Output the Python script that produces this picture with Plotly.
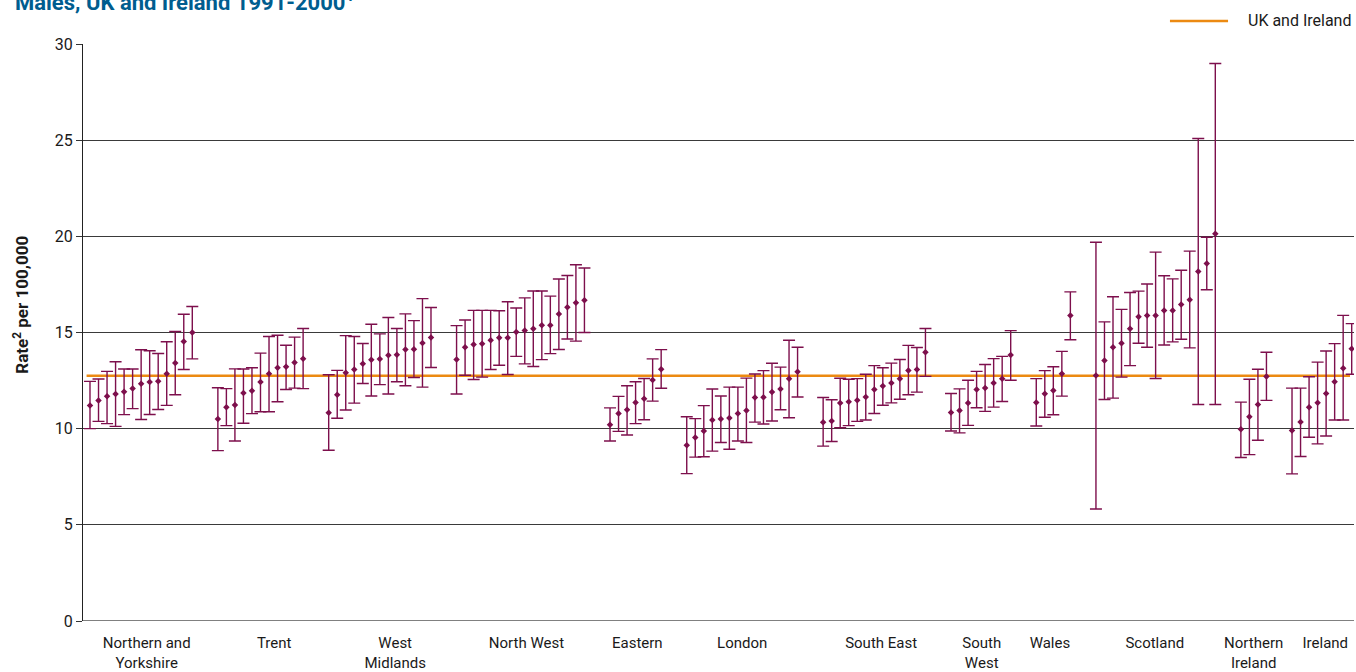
import plotly.graph_objects as go

# Regions (display labels) and the number of registries plotted in each
regions = ["Northern and<br>Yorkshire", "Trent", "West<br>Midlands", "North West",
           "Eastern", "London", "South East", "South<br>West", "Wales",
           "Scotland", "Northern<br>Ireland", "Ireland"]

# Age-standardised rates per 100,000 with lower / upper 95% confidence limits
rate_ny = [11.21, 11.47, 11.68, 11.80, 11.92, 12.09, 12.34, 12.42, 12.47, 12.85, 13.41, 14.53, 15.00]
lo_ny = [10.00, 10.38, 10.26, 10.12, 10.73, 11.04, 10.48, 10.74, 11.00, 11.21, 11.76, 13.08, 13.63]
hi_ny = [12.46, 12.58, 12.98, 13.48, 13.10, 13.10, 14.10, 14.05, 13.91, 14.52, 15.05, 15.95, 16.35]

rate_trent = [10.50, 11.11, 11.23, 11.85, 11.97, 12.42, 12.85, 13.17, 13.22, 13.44, 13.63]
lo_trent = [8.86, 10.16, 9.36, 10.28, 10.78, 10.88, 10.88, 11.40, 12.04, 12.11, 12.08]
hi_trent = [12.13, 12.08, 13.11, 13.10, 13.17, 13.93, 14.79, 14.86, 14.34, 14.76, 15.21]

rate_wm = [10.83, 11.76, 12.91, 13.08, 13.37, 13.58, 13.62, 13.82, 13.84, 14.12, 14.13, 14.45, 14.74]
lo_wm = [8.88, 10.54, 10.97, 11.33, 12.35, 11.70, 12.29, 11.80, 12.44, 12.23, 12.66, 12.16, 13.18]
hi_wm = [12.80, 13.03, 14.84, 14.79, 14.43, 15.43, 14.93, 15.78, 15.21, 15.97, 15.62, 16.76, 16.30]

rate_nw = [13.59, 14.23, 14.38, 14.42, 14.60, 14.73, 14.73, 15.02, 15.10, 15.19, 15.38, 15.38,
           15.96, 16.31, 16.55, 16.68]
lo_nw = [11.80, 12.78, 12.56, 12.68, 13.08, 13.30, 12.82, 13.76, 13.37, 13.23, 13.59, 13.90,
         14.12, 14.66, 14.55, 15.00]
hi_nw = [15.36, 15.65, 16.15, 16.15, 16.15, 16.13, 16.60, 16.27, 16.80, 17.16, 17.16, 16.89,
         17.78, 17.96, 18.52, 18.35]

rate_east = [10.21, 10.79, 10.98, 11.36, 11.55, 12.53, 13.09]
lo_east = [9.36, 9.86, 9.67, 10.26, 10.46, 11.43, 12.10]
hi_east = [11.08, 11.68, 12.23, 12.44, 12.61, 13.63, 14.11]

rate_london = [9.14, 9.54, 9.88, 10.45, 10.50, 10.55, 10.79, 10.95, 11.62, 11.63, 11.91, 12.06, 12.59, 12.96]
lo_london = [7.66, 8.52, 8.54, 8.83, 9.28, 8.93, 9.36, 9.28, 10.34, 10.24, 10.40, 10.98, 10.57, 11.65]
hi_london = [10.62, 10.52, 11.20, 12.06, 11.70, 12.16, 12.16, 12.63, 12.84, 13.02, 13.40, 13.20, 14.60, 14.23]

rate_se = [10.34, 10.40, 11.34, 11.40, 11.48, 11.64, 12.03, 12.22, 12.38, 12.59, 13.03, 13.07, 13.97]
lo_se = [9.09, 9.33, 10.05, 10.16, 10.38, 10.45, 10.79, 11.22, 11.34, 11.53, 11.76, 11.90, 12.72]
hi_se = [11.62, 11.50, 12.62, 12.57, 12.60, 12.83, 13.28, 13.17, 13.41, 13.60, 14.33, 14.22, 15.21]

rate_sw = [10.84, 10.95, 11.34, 12.03, 12.12, 12.38, 12.59, 13.83]
lo_sw = [9.88, 9.78, 10.17, 11.09, 10.90, 11.12, 11.41, 12.52]
hi_sw = [11.83, 12.07, 12.52, 12.98, 13.34, 13.64, 13.76, 15.10]

rate_wales = [11.36, 11.81, 11.98, 12.86, 15.88]
lo_wales = [10.14, 10.59, 10.72, 11.69, 14.62]
hi_wales = [12.60, 13.02, 13.22, 14.02, 17.11]

rate_scot = [12.76, 13.54, 14.23, 14.44, 15.20, 15.82, 15.89, 15.89, 16.15, 16.15, 16.45, 16.70,
             18.17, 18.59, 20.14]
lo_scot = [5.82, 11.52, 11.59, 12.68, 13.28, 14.44, 14.23, 12.61, 14.35, 14.51, 14.65, 14.20,
           11.26, 17.22, 11.26]
hi_scot = [19.69, 15.55, 16.86, 16.20, 17.08, 17.15, 17.52, 19.18, 17.95, 17.79, 18.24, 19.23,
           25.09, 19.95, 28.99]

rate_ni = [9.97, 10.62, 11.26, 12.71]
lo_ni = [8.50, 8.65, 9.40, 11.47]
hi_ni = [11.38, 12.57, 13.09, 13.97]

rate_ire = [9.90, 10.35, 11.12, 11.35, 11.83, 12.44, 13.14, 14.15]
lo_ire = [7.65, 8.55, 9.55, 9.21, 9.62, 10.45, 10.45, 12.83]
hi_ire = [12.11, 12.11, 12.70, 13.46, 14.04, 14.42, 15.89, 15.46]

uk_ireland_rate = 12.75

y_ticks = [0, 5, 10, 15, 20, 25, 30]

# Category label positions along the slot axis
label_pos = [6.65, 21.6, 35.8, 51.2, 64.2, 76.5, 92.8, 104.6, 112.6, 124.9, 136.5, 144.9]

rates = [rate_ny, rate_trent, rate_wm, rate_nw, rate_east, rate_london, rate_se,
         rate_sw, rate_wales, rate_scot, rate_ni, rate_ire]
lows = [lo_ny, lo_trent, lo_wm, lo_nw, lo_east, lo_london, lo_se,
        lo_sw, lo_wales, lo_scot, lo_ni, lo_ire]
highs = [hi_ny, hi_trent, hi_wm, hi_nw, hi_east, hi_london, hi_se,
         hi_sw, hi_wales, hi_scot, hi_ni, hi_ire]

# Each registry gets one slot; regions are separated by two empty slots
GAP = 2
xs, ys, err_up, err_dn = [], [], [], []
start = 0
for r, lo, hi in zip(rates, lows, highs):
    for i, (v, l, h) in enumerate(zip(r, lo, hi)):
        xs.append(start + i)
        ys.append(v)
        err_up.append(h - v)
        err_dn.append(v - l)
    start += len(r) + GAP

MAROON = "#7d0f4c"
ORANGE = "#ec8a12"
FONT = "Roboto"
TEXT = "#1a1a1a"

fig = go.Figure()

fig.add_trace(go.Scatter(
    x=[xs[0] - 0.4, xs[-1] - 0.2], y=[uk_ireland_rate, uk_ireland_rate],
    mode="lines", line=dict(color=ORANGE, width=2.5),
    name="UK and Ireland", showlegend=False, hoverinfo="skip"))

fig.add_trace(go.Scatter(
    x=xs, y=ys, mode="markers",
    marker=dict(symbol="diamond", size=5, color=MAROON),
    error_y=dict(type="data", symmetric=False, array=err_up, arrayminus=err_dn,
                 color=MAROON, thickness=1.4, width=6),
    showlegend=False))

# Legend entry drawn at the top right
fig.add_shape(type="line", xref="paper", yref="paper",
              x0=0.8552, x1=0.9009, y0=1.0399, y1=1.0399,
              line=dict(color=ORANGE, width=2.5))
fig.add_annotation(xref="paper", yref="paper", x=0.9150, y=1.0399,
                   xanchor="left", yanchor="middle", showarrow=False,
                   text="UK and Ireland", font=dict(family=FONT, size=16, color=TEXT))

# Chart title (its top runs past the page edge)
fig.add_annotation(xref="paper", yref="paper", x=-0.0551, y=1.046,
                   xanchor="left", yanchor="bottom", showarrow=False,
                   text="<b>Males, UK and Ireland 1991-2000<sup>1</sup></b>",
                   font=dict(family=FONT, size=22, color="#005d8f"))

# Y axis title
fig.add_annotation(xref="paper", yref="paper", x=-0.049, y=0.5477,
                   xanchor="center", yanchor="middle", showarrow=False, textangle=-90,
                   text="<b>Rate<sup>2</sup> per 100,000</b>",
                   font=dict(family=FONT, size=17, color=TEXT))

fig.update_layout(
    width=1356, height=672,
    margin=dict(l=83, r=2, t=44, b=51),
    paper_bgcolor="white", plot_bgcolor="white",
    font=dict(family=FONT, size=16, color=TEXT),
    xaxis=dict(range=[-0.82, 148.27], tickmode="array", tickvals=label_pos,
               ticktext=regions, ticks="", showgrid=False, zeroline=False,
               showline=False, ticklabelstandoff=11, automargin=False,
               tickfont=dict(family=FONT, size=15, color=TEXT)),
    yaxis=dict(range=[0, 30], tickmode="array", tickvals=y_ticks,
               ticks="outside", ticklen=6, tickcolor="#333333", automargin=False,
               tickfont=dict(family=FONT, size=16, color=TEXT),
               showgrid=True, gridcolor="#3a3a3a", gridwidth=1,
               zeroline=False, showline=True, linecolor="#222222", linewidth=1),
)

# Grey baseline along the bottom of the plot area
fig.add_shape(type="line", xref="paper", yref="y", x0=0, x1=1, y0=0, y1=0,
              line=dict(color="#808080", width=2), layer="above")

fig.write_html("out.html")
